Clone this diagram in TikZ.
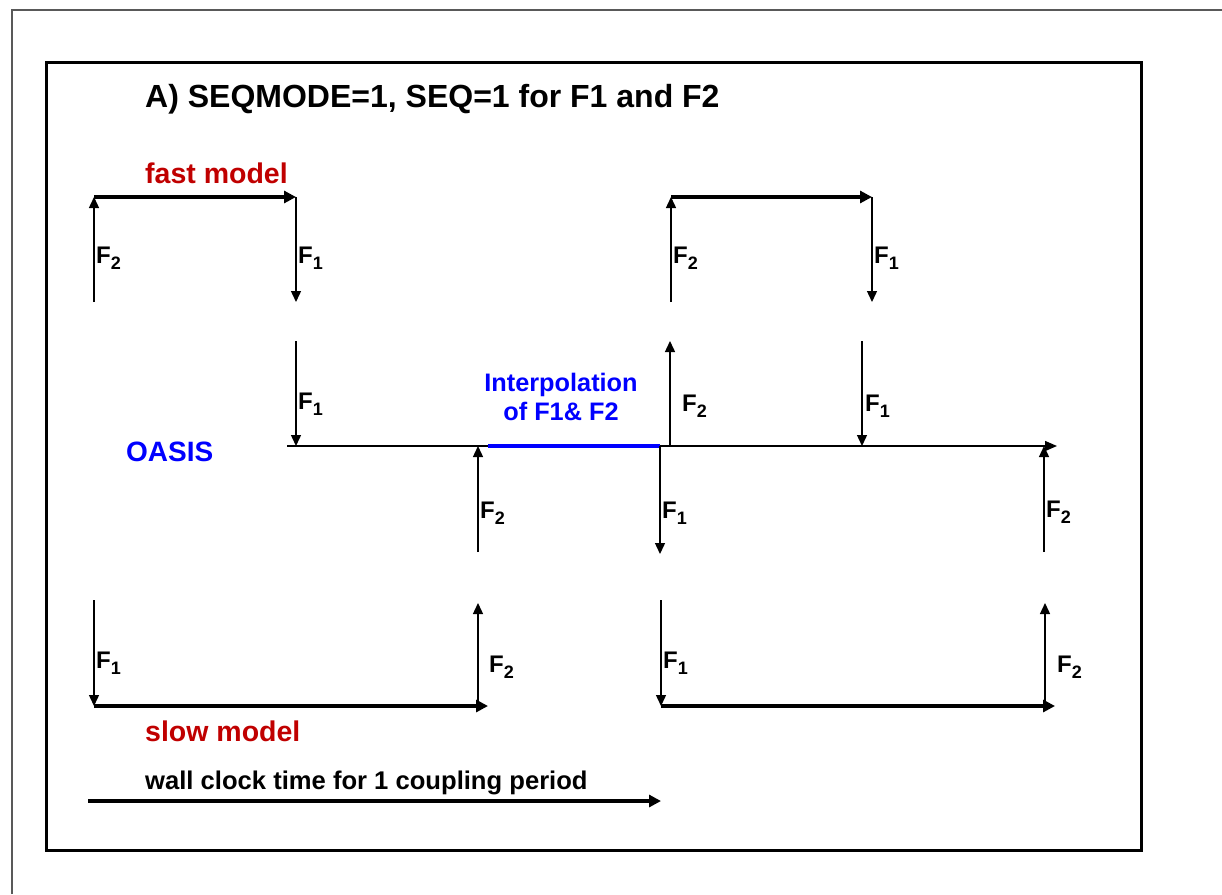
\documentclass[tikz,border=0pt]{standalone}
\usepackage{fontspec}
\setmainfont{Liberation Sans}
\usetikzlibrary{arrows.meta}
\definecolor{darkred}{RGB}{192,0,0}
\definecolor{oblue}{RGB}{0,0,255}
\tikzset{
  thinarrow/.style={line width=1.4pt,-{Triangle[length=11pt,width=10pt]}},
  thickarrow/.style={line width=3.5pt,-{Triangle[length=12pt,width=12pt]}},
  flabel/.style={anchor=base west,inner sep=0pt,font=\fontsize{24}{24}\selectfont\bfseries},
  redlabel/.style={anchor=base west,inner sep=0pt,text=darkred,font=\fontsize{28.5}{28.5}\selectfont\bfseries},
}
\newcommand{\Fsub}[1]{F\raisebox{-6.5pt}{\fontsize{18}{18}\selectfont #1}}
\begin{document}
\begin{tikzpicture}[x=1pt,y=-1pt]
\useasboundingbox (0,0) rectangle (1222,894);
% outer frame
\draw[gray!70!black,line width=1.2pt] (12,894) -- (12,10) -- (1222,10);
% inner frame
\draw[line width=3pt] (46,62) rectangle (1141,850);
% title
\node[anchor=base west,inner sep=0pt,font=\fontsize{32}{32}\selectfont\bfseries] (title) at (145,107) {A) SEQMODE=1, SEQ=1 for F1 and F2};
% fast model
\node[redlabel] (fast) at (145,183) {fast model};
\coordinate (fa0) at (94,302);
\coordinate (fa1) at (94,197);
\coordinate (fa2) at (296,197);
\coordinate (fa3) at (296,302);
\draw[thinarrow] (fa0) -- (fa1);
\draw[thickarrow] (fa1) -- (fa2);
\draw[thinarrow] (fa2) -- (fa3);
\node[flabel] (lfa1) at (96,263) {\Fsub{2}};
\node[flabel] (lfa2) at (298,263) {\Fsub{1}};
\coordinate (fb0) at (671,302);
\coordinate (fb1) at (671,197);
\coordinate (fb2) at (872,197);
\coordinate (fb3) at (872,302);
\draw[thinarrow] (fb0) -- (fb1);
\draw[thickarrow] (fb1) -- (fb2);
\draw[thinarrow] (fb2) -- (fb3);
\node[flabel] (lfb1) at (673,263) {\Fsub{2}};
\node[flabel] (lfb2) at (874,263) {\Fsub{1}};
% OASIS line
\node[anchor=base west,inner sep=0pt,text=oblue,font=\fontsize{28}{28}\selectfont\bfseries] (oasis) at (126,461) {OASIS};
\coordinate (o0) at (287,446);
\coordinate (o1) at (1057,446);
\draw[line width=1.4pt,-{Triangle[length=12pt,width=10pt]}] (o0) -- (o1);
\coordinate (b0) at (488,446);
\coordinate (b1) at (660,446);
\draw[oblue,line width=3.5pt] (b0) -- (b1);
\node[align=center,inner sep=0pt,text=oblue,font=\fontsize{25.3}{29}\selectfont\bfseries] (interp) at (561,397) {Interpolation\\of F1\& F2};
% OASIS arrows
\coordinate (p1t) at (296,341); \coordinate (p1b) at (296,446);
\draw[thinarrow] (p1t) -- (p1b);
\node[flabel] (lp1) at (298,409) {\Fsub{1}};
\coordinate (p2b) at (478,552); \coordinate (p2t) at (478,446);
\draw[thinarrow] (p2b) -- (p2t);
\node[flabel] (lp2) at (480,518) {\Fsub{2}};
\coordinate (p3t) at (660,446); \coordinate (p3b) at (660,554);
\draw[thinarrow] (p3t) -- (p3b);
\node[flabel] (lp3) at (662,518) {\Fsub{1}};
\coordinate (p4b) at (670,446); \coordinate (p4t) at (670,341);
\draw[thinarrow] (p4b) -- (p4t);
\node[flabel] (lp4) at (682,411) {\Fsub{2}};
\coordinate (p5t) at (862,341); \coordinate (p5b) at (862,446);
\draw[thinarrow] (p5t) -- (p5b);
\node[flabel] (lp5) at (865,411) {\Fsub{1}};
\coordinate (p6b) at (1044,552); \coordinate (p6t) at (1044,446);
\draw[thinarrow] (p6b) -- (p6t);
\node[flabel] (lp6) at (1046,517) {\Fsub{2}};
% slow model
\coordinate (sa0) at (94,600);
\coordinate (sa1) at (94,706);
\coordinate (sa2) at (488,706);
\coordinate (sa3) at (478,706);
\coordinate (sa4) at (478,603);
\draw[thinarrow] (sa0) -- (sa1);
\draw[thickarrow] (sa1) -- (sa2);
\draw[thinarrow] (sa3) -- (sa4);
\node[flabel] (lsa1) at (96,668) {\Fsub{1}};
\node[flabel] (lsa2) at (489,672) {\Fsub{2}};
\coordinate (sb0) at (661,600);
\coordinate (sb1) at (661,706);
\coordinate (sb2) at (1055,706);
\coordinate (sb3) at (1045,706);
\coordinate (sb4) at (1045,603);
\draw[thinarrow] (sb0) -- (sb1);
\draw[thickarrow] (sb1) -- (sb2);
\draw[thinarrow] (sb3) -- (sb4);
\node[flabel] (lsb1) at (663,668) {\Fsub{1}};
\node[flabel] (lsb2) at (1057,672) {\Fsub{2}};
\node[redlabel] (slow) at (145,741) {slow model};
% wall clock
\node[anchor=base west,inner sep=0pt,font=\fontsize{25.6}{25.6}\selectfont\bfseries] (wall) at (145,789) {wall clock time for 1 coupling period};
\coordinate (w0) at (88,801);
\coordinate (w1) at (661,801);
\draw[thickarrow] (w0) -- (w1);
\end{tikzpicture}
\end{document}
